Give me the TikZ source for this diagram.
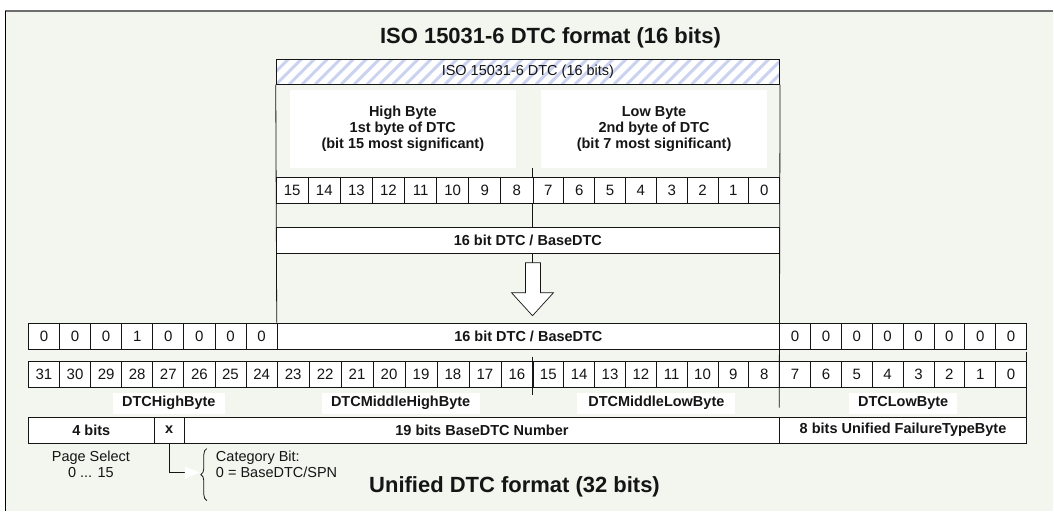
\documentclass[tikz,border=0pt]{standalone}
\usepackage{fontspec}
\setmainfont{Liberation Sans}
\usetikzlibrary{decorations.pathreplacing,arrows.meta}
\definecolor{bgc}{HTML}{F3F5EF}
\definecolor{hatchc}{HTML}{CBD3F0}
\definecolor{framec}{HTML}{6E6E6E}
\definecolor{ink}{HTML}{151515}
\newcommand\fsm{\fontsize{14.5}{16}\selectfont}
\newcommand\fnum{\fontsize{15}{17}\selectfont}
\newcommand\fbig{\fontsize{22}{26}\selectfont\bfseries}
\newcommand\bitgroup[5]{%
  \foreach \lb [count=\k from 0] in {#5}{%
    \pgfmathsetmacro\cw{(#3-#2)/8}%
    \node[cell, minimum width=\cw pt, anchor=north west] (#1\k) at ({#2+\k*\cw}, #4) {\lb};
  }}
\begin{document}
\begin{tikzpicture}[x=1pt,y=-1pt,
  every node/.style={text=ink},
  ln/.style={draw=ink, line width=0.8pt},
  cell/.style={ln, fill=white, inner sep=0pt, minimum height=26pt, font=\fnum},
  wide/.style={ln, fill=white, inner sep=0pt, minimum height=26pt, anchor=north west},
  lbl/.style={fill=white, inner sep=0pt, minimum height=21pt, font=\fsm\bfseries},
  txt/.style={inner sep=0pt, font=\fsm, align=center}
]
% page and frame
\fill[white] (0,0) rectangle (1054,511);
\fill[bgc] (5,11) rectangle (1054,511);
\draw[framec, line width=2pt] (5,11.5) -- (1054,11.5);
\draw[black, line width=1pt] (5.5,11) -- (5.5,511);

% titles
\node[inner sep=0pt, font=\fbig] (t16) at (551,38) {ISO 15031-6 DTC format (16 bits)};
\node[inner sep=0pt, font=\fbig] (t32) at (515,487) {Unified DTC format (32 bits)};

% hatched header
\node[ln, fill=white, minimum width=504pt, minimum height=25pt, inner sep=0pt,
  anchor=north west, font=\fsm,
  path picture={\foreach \s in {-39,-26,...,520}
     \draw[hatchc, line width=3pt] ([xshift=\s pt]path picture bounding box.south west) -- ++(30pt,30pt);}]
  (isohdr) at (276,59) {ISO 15031-6 DTC (16 bits)};

% high / low byte boxes
\node[fill=white, minimum width=226pt, minimum height=78pt, inner sep=0pt, font=\fsm\bfseries,
  align=center, anchor=north west] (hb) at (290,90)
  {High Byte\\1st byte of DTC\\(bit 15 most significant)};
\node[fill=white, minimum width=227pt, minimum height=78pt, inner sep=0pt, font=\fsm\bfseries,
  align=center, anchor=north west] (lb) at (541,90)
  {Low Byte\\2nd byte of DTC\\(bit 7 most significant)};

% 16-bit row
\bitgroup{aH}{276}{533}{177}{15,14,13,12,11,10,9,8}
\bitgroup{aL}{533}{780}{177}{7,6,5,4,3,2,1,0}

% 16 bit DTC box
\node[wide, minimum width=504pt, font=\fsm\bfseries] (dtc16) at (276,227) {16 bit DTC / BaseDTC};

% 32-bit top row
\bitgroup{zL}{28}{277}{323}{0,0,0,1,0,0,0,0}
\node[wide, minimum width=503pt, font=\fsm\bfseries] (dtc32) at (277,323) {16 bit DTC / BaseDTC};
\bitgroup{zR}{780}{1027}{323}{0,0,0,0,0,0,0,0}

% 32-bit number row
\bitgroup{b3}{28}{277}{361}{31,30,29,28,27,26,25,24}
\bitgroup{b2}{277}{533}{361}{23,22,21,20,19,18,17,16}
\bitgroup{b1}{533}{780}{361}{15,14,13,12,11,10,9,8}
\bitgroup{b0}{780}{1027}{361}{7,6,5,4,3,2,1,0}

% byte labels
\node[lbl, minimum width=112pt] (lhigh) at (169,403.5) {DTCHighByte};
\node[lbl, minimum width=158pt] (lmh) at (401,403.5) {DTCMiddleHighByte};
\node[lbl, minimum width=158pt] (lml) at (657,403.5) {DTCMiddleLowByte};
\node[lbl, minimum width=108pt] (llow) at (904,403.5) {DTCLowByte};

% bottom field row
\node[wide, minimum width=126pt, font=\fsm\bfseries] (f4) at (28,417) {4 bits};
\node[wide, minimum width=30pt, font=\fsm\bfseries] (fx) at (154,417) {x};
\node[wide, minimum width=596pt, font=\fsm\bfseries] (f19) at (184,417) {19 bits BaseDTC Number};
\node[wide, minimum width=247pt, font=\fsm\bfseries] (f8) at (780,417) {8 bits Unified FailureTypeByte};

% notes
\node[txt] (ps) at (91,465) {Page Select\\0 ... 15};
\node[txt, align=left, anchor=west] (cat) at (216,465) {Category Bit:\\0 = BaseDTC/SPN};

% structure lines
\coordinate (d1) at (533,168);
\coordinate (arrtop) at (533,263);
\coordinate (r780) at (780,408);
\draw[ln] (isohdr.south west) -- (dtc32.north west);
\draw[ln] (isohdr.south east) -- (r780);
\draw[ln] (d1) -- (aL0.north west);
\draw[ln] (aL0.south west) -- (aL0.south west |- dtc16.north);
\draw[ln] (aL0.south west |- dtc16.south) -- (arrtop);
\draw[ln] ([yshift=4pt]b10.north west) -- ([yshift=-8pt]b10.south west);
\draw[ln] ([yshift=9pt]b07.north east) -- (f8.south east);

% block arrow
\draw[ln, fill=white, line width=0.7pt] (526,263) -- (541,263) -- (541,293) -- (554,293)
  -- (533,316) -- (512,293) -- (526,293) -- cycle;

% category connector and brace
\coordinate (brtip) at (200,473);
\draw[ln, -{Triangle[width=12pt,length=15pt,color=white]}] (fx.south) |- (brtip);
\draw[ln, decorate, decoration={brace, amplitude=6pt}] (207,501) -- (207,449);
\end{tikzpicture}
\end{document}
